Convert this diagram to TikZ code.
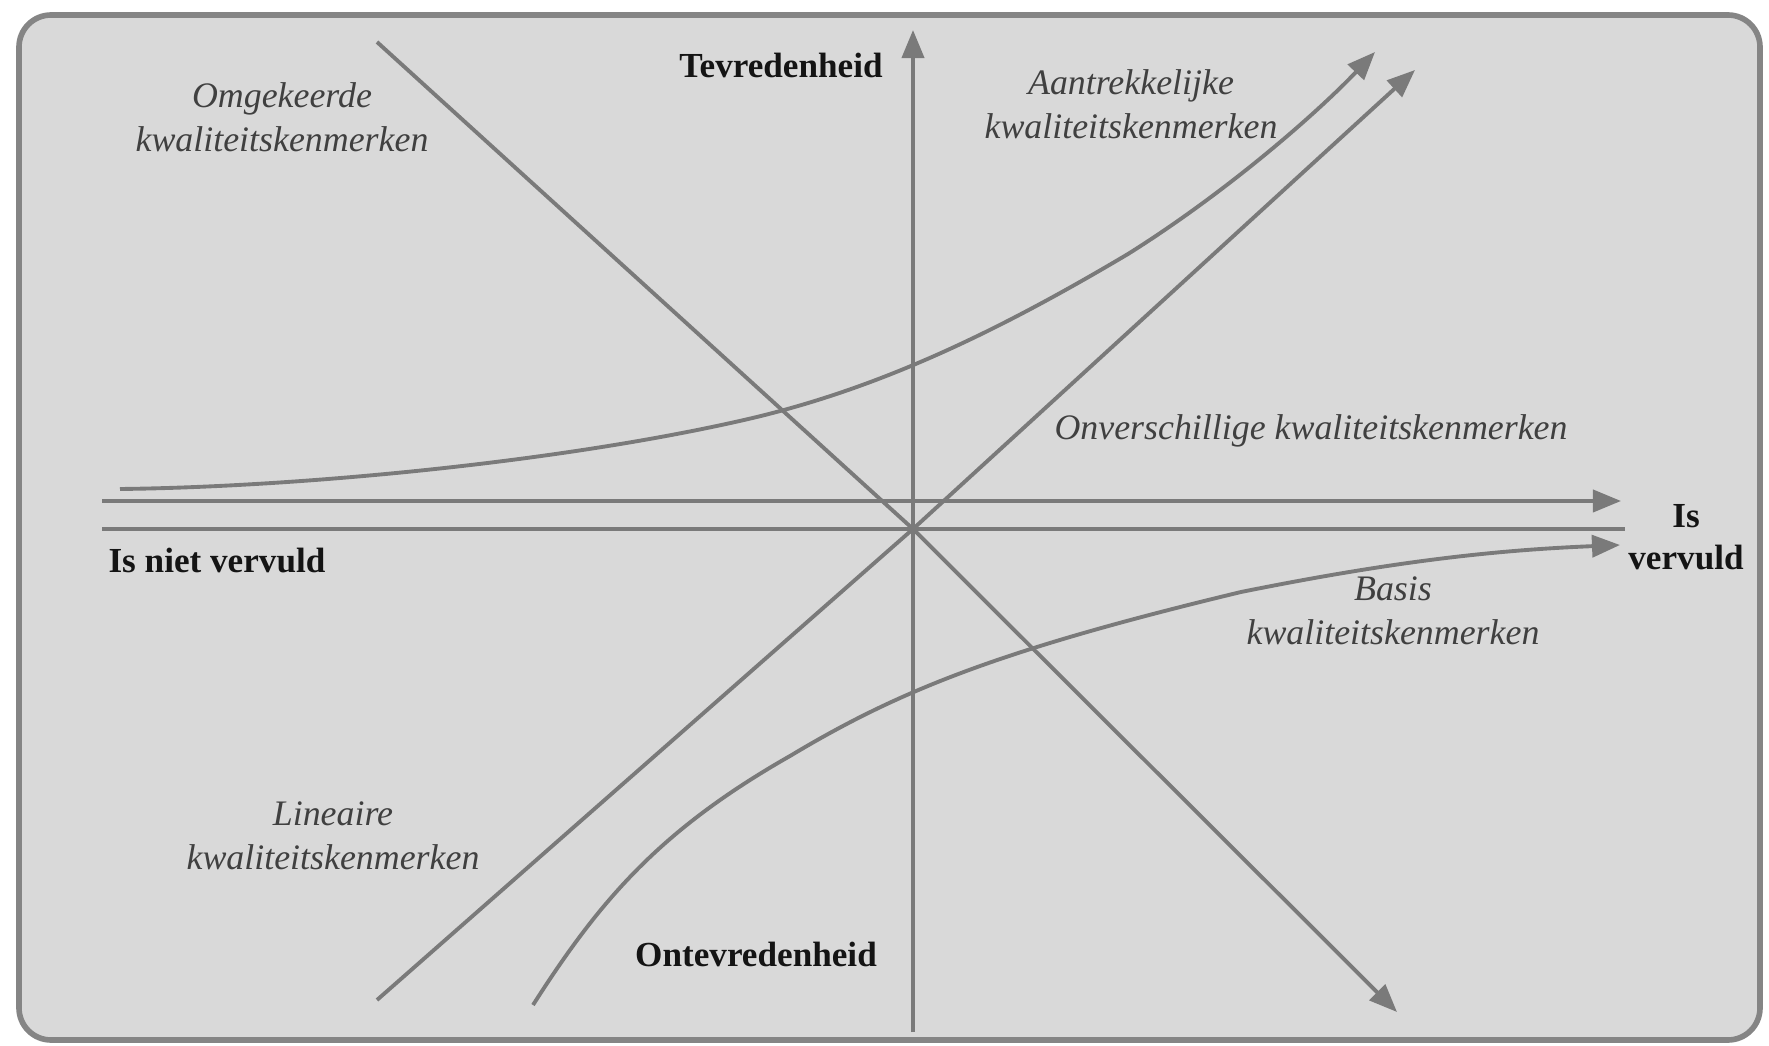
\documentclass[tikz,border=0pt]{standalone}
\usepackage{fontspec}
\setmainfont{Liberation Serif}
\usetikzlibrary{arrows.meta}
\definecolor{panel}{HTML}{D9D9D9}
\definecolor{rim}{HTML}{858585}
\definecolor{ln}{HTML}{7A7A7A}
\definecolor{itx}{HTML}{404040}
\definecolor{btx}{HTML}{141414}
\tikzset{
  curve/.style={draw=ln, line width=1.1pt},
  arr/.style={curve, -{Triangle[length=0.28cm,width=0.22cm]}},
  ilabel/.style={font=\fontsize{10.2}{12.4}\selectfont\itshape, text=itx, align=center, inner sep=0pt},
  blabel/.style={font=\fontsize{10}{12}\selectfont\bfseries, text=btx, align=center, inner sep=0pt}
}
\begin{document}
\begin{tikzpicture}[x=0.01cm,y=-0.01cm]
\useasboundingbox (0,0) rectangle (1769,1046);
\fill[white] (0,0) rectangle (1769,1046);
\draw[rim, line width=1.6pt, fill=panel, rounded corners=0.32cm] (19,15) rectangle (1760,1040);

% coordinates
\coordinate (O) at (913,529);
\coordinate (vb) at (913,1032);
\coordinate (vt) at (913,30);
\coordinate (hl1) at (102,501);
\coordinate (hr1) at (1621,501);
\coordinate (hl2) at (102,529);
\coordinate (hr2) at (1625,529);
\coordinate (om1) at (377,42);
\coordinate (om2) at (1397,1012);
\coordinate (li1) at (377,1000);
\coordinate (li2) at (1415,70);
\coordinate (aa1) at (120,489);
\coordinate (aa2) at (1375,52);
\coordinate (ba1) at (533,1005);
\coordinate (ba2) at (1620,545);

% axes
\draw[arr] (vb) -- (vt);
\draw[arr] (hl1) -- (hr1);
\draw[curve] (hl2) -- (hr2);

% diagonals
\draw[arr] (om1) -- (O) -- (om2);
\draw[arr] (li1) -- (O) -- (li2);

% Aantrekkelijke curve
\draw[arr] (aa1) .. controls (300,487) and (560,462) .. (744,420)
  .. controls (880,389) and (1000,330) .. (1128,254)
  .. controls (1230,190) and (1320,110) .. (aa2);

% Basis curve
\draw[arr] (ba1) .. controls (600,900) and (660,830) .. (790,756)
  .. controls (900,690) and (1000,650) .. (1241,592)
  .. controls (1400,560) and (1500,550) .. (ba2);

% labels
\node[blabel] (tev) at (781,65) {Tevredenheid};
\node[blabel] (ont) at (756,954) {Ontevredenheid};
\node[blabel] (niet) at (217,561) {Is niet vervuld};
\node[blabel] (isv) at (1686,537) {Is\\vervuld};
\node[ilabel] (omg) at (282,117) {Omgekeerde\\kwaliteitskenmerken};
\node[ilabel] (aan) at (1131,104) {Aantrekkelijke\\kwaliteitskenmerken};
\node[ilabel] (onv) at (1311,431) {Onverschillige kwaliteitskenmerken};
\node[ilabel] (bas) at (1393,611) {Basis\\kwaliteitskenmerken};
\node[ilabel] (lin) at (333,836) {Lineaire\\kwaliteitskenmerken};
\end{tikzpicture}
\end{document}
